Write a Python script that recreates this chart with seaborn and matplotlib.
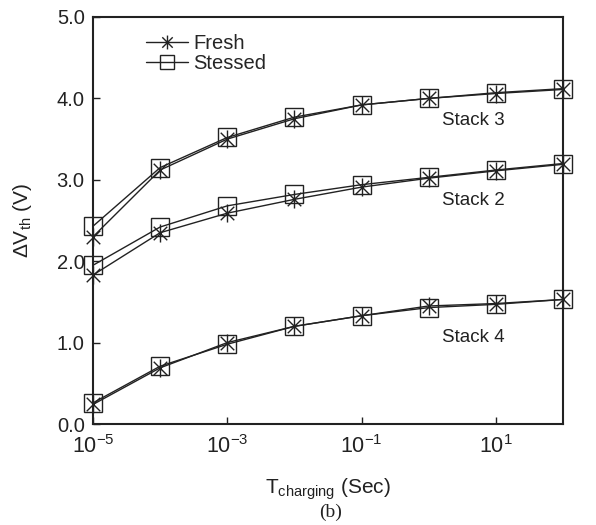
import numpy as np
import pandas as pd
import matplotlib
matplotlib.use("Agg")
import matplotlib.pyplot as plt
from matplotlib.path import Path
from matplotlib.ticker import NullLocator, FixedLocator
import seaborn as sns

# ---- data ----
t_charging = [1e-5, 1e-4, 1e-3, 1e-2, 1e-1, 1e0, 1e1, 1e2]
stack3_fresh = [2.30, 3.12, 3.50, 3.75, 3.92, 4.00, 4.06, 4.11]
stack3_stressed = [2.43, 3.15, 3.52, 3.77, 3.92, 4.00, 4.07, 4.12]
stack2_fresh = [1.83, 2.35, 2.59, 2.76, 2.91, 3.02, 3.11, 3.19]
stack2_stressed = [1.95, 2.42, 2.68, 2.82, 2.94, 3.03, 3.12, 3.20]
stack4_fresh = [0.24, 0.69, 1.00, 1.20, 1.33, 1.45, 1.48, 1.53]
stack4_stressed = [0.26, 0.71, 0.98, 1.20, 1.33, 1.43, 1.47, 1.53]
stack_labels = ["Stack 3", "Stack 2", "Stack 4"]
legend_labels = ["Fresh", "Stessed"]
x_ticks = [1e-5, 1e-3, 1e-1, 1e1]
x_ticklabels = ["$10^{-5}$", "$10^{-3}$", "$10^{-1}$", "$10^{1}$"]
y_ticks = [0.0, 1.0, 2.0, 3.0, 4.0, 5.0]

sns.set_theme(style="ticks")
plt.rcParams["font.family"] = ["Liberation Sans", "DejaVu Sans"]
plt.rcParams["mathtext.fontset"] = "custom"
plt.rcParams["mathtext.rm"] = "Liberation Sans"
plt.rcParams["mathtext.it"] = "Liberation Sans"
plt.rcParams["mathtext.bf"] = "Liberation Sans"

# asterisk marker: vertical bar plus an X
ast = Path(
    [(0, -1), (0, 1), (-0.75, -0.75), (0.75, 0.75), (-0.75, 0.75), (0.75, -0.75)],
    [Path.MOVETO, Path.LINETO, Path.MOVETO, Path.LINETO, Path.MOVETO, Path.LINETO],
)

fig = plt.figure(figsize=(5.96, 5.25), dpi=100)
ax = fig.add_axes([93 / 596, 1 - 424 / 525, 470 / 596, 407 / 525])

series = [
    ("Stack 3", "Fresh", stack3_fresh),
    ("Stack 3", "Stessed", stack3_stressed),
    ("Stack 2", "Fresh", stack2_fresh),
    ("Stack 2", "Stessed", stack2_stressed),
    ("Stack 4", "Fresh", stack4_fresh),
    ("Stack 4", "Stessed", stack4_stressed),
]
handles = {}
for stack, cond, vals in series:
    df = pd.DataFrame({"t": t_charging, "v": vals})
    if cond == "Fresh":
        mk = dict(marker=ast, markersize=13, mfc="none", mec="#222222", mew=1.0)
    else:
        mk = dict(marker="s", markersize=13, mfc="none", mec="#222222", mew=1.0)
    sns.lineplot(data=df, x="t", y="v", ax=ax, color="#222222", lw=1.0,
                 clip_on=False, zorder=3, **mk)
    if cond not in handles:
        handles[cond] = ax.lines[-1]

ax.set_xscale("log")
ax.set_xlim(1e-5, 1e2)
ax.set_ylim(0, 5)
ax.xaxis.set_major_locator(FixedLocator(x_ticks))
ax.set_xticklabels(x_ticklabels)
ax.xaxis.set_minor_locator(NullLocator())
ax.set_yticks(y_ticks)
ax.set_yticklabels([f"{v:.1f}" for v in y_ticks])
ax.tick_params(direction="in", length=5, width=1, labelsize=14.5, color="#222222",
               labelcolor="#222222", pad=6)
ax.tick_params(axis="x", labelsize=15.5, pad=8)
for s in ax.spines.values():
    s.set_linewidth(1.5)
    s.set_color("#222222")

ax.set_xlabel(r"T$_{\mathregular{charging}}$ (Sec)", fontsize=15, color="#222222", labelpad=13)
ax.set_ylabel(r"ΔV$_{\mathregular{th}}$ (V)", fontsize=15, color="#222222", labelpad=16)

for lab, yv in zip(stack_labels, [3.73, 2.74, 1.06]):
    ax.text(1.6, yv, lab, fontsize=13.5, color="#222222", ha="left", va="center")

leg = ax.legend([handles["Fresh"], handles["Stessed"]], legend_labels,
                loc="upper left", bbox_to_anchor=(0.113, 0.958), frameon=False,
                fontsize=14.5, handlelength=2.1, handletextpad=0.25, labelspacing=0.05,
                borderpad=0, borderaxespad=0)
for h in leg.legend_handles:
    h.set_markersize(10)

fig.text(0.555, 1 - 512 / 525, "(b)", fontsize=14, ha="center", va="center",
         family=["Liberation Serif"], color="#222222")

fig.savefig("out.png", dpi=100)
